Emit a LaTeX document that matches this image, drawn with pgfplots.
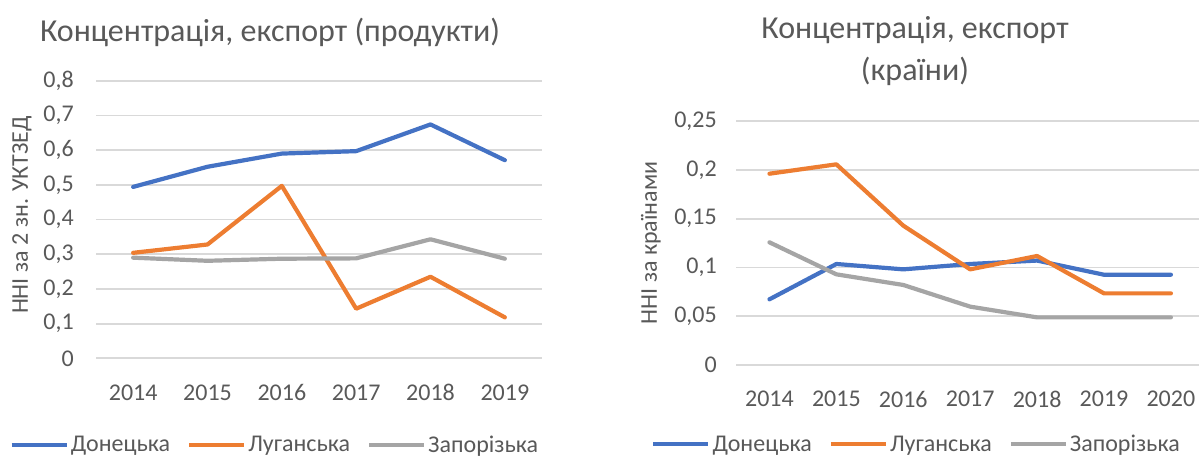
\documentclass[border=0pt]{standalone}
\usepackage{fontspec}
\setmainfont{Carlito}
\usepackage{pgfplots}
\pgfplotsset{compat=1.18}
\definecolor{cblue}{HTML}{4472C4}
\definecolor{corange}{HTML}{ED7D31}
\definecolor{cgray}{HTML}{A5A5A5}
\definecolor{gridc}{HTML}{D9D9D9}
\definecolor{txt}{HTML}{595959}
\newcommand{\tfont}{\fontsize{24}{28}\selectfont}
\pgfplotsset{
  excel/.style={
    scale only axis,
    axis line style={draw=none},
    major tick length=0pt,
    ymajorgrids,
    grid style={gridc, line width=1.8pt},
    tick label style={font=\tfont, text=txt, inner sep=0pt},
    xticklabel style={anchor=center, yshift=-34pt},
    label style={font=\tfont, text=txt},
    every axis plot/.append style={line width=4.2pt, line join=round, line cap=round},
    legend columns=3,
    legend image code/.code={\draw[##1, line width=4.2pt, line cap=butt] (0pt,0pt) -- (55pt,0pt);},
    legend style={draw=none, fill=none, font=\tfont, text=txt, anchor=center,
      /tikz/every even column/.append style={column sep=15pt},
      nodes={inner sep=2pt}},
    legend cell align=left,
    clip=false,
  }
}
\begin{document}
\begin{tikzpicture}[x=1pt,y=1pt]
\useasboundingbox (0,0) rectangle (1199,459);
% Left chart
\node[font=\fontsize{32}{38}\selectfont, text=txt] at (270,427) {Концентрація, експорт (продукти)};
\begin{axis}[excel,
  at={(96pt,100.7pt)}, anchor=south west,
  width=446pt, height=277.6pt,
  xmin=-0.5, xmax=5.5, ymin=0, ymax=0.8,
  xtick={0,1,2,3,4,5}, xticklabels={2014,2015,2016,2017,2018,2019},
  ytick={0,0.1,0.2,0.3,0.4,0.5,0.6,0.7,0.8},
  yticklabels={0,{0,1},{0,2},{0,3},{0,4},{0,5},{0,6},{0,7},{0,8}},
  yticklabel style={anchor=east, xshift=-22pt},
  ylabel={ННІ за 2 зн. УКТЗЕД},
  ylabel style={at={(axis description cs:-0.166,0.516)}, anchor=center, rotate=0},
  legend style={at={(axis description cs:0.401,-0.312)}},
]
\addplot[cblue] coordinates {(0,0.494) (1,0.552) (2,0.590) (3,0.597) (4,0.674) (5,0.571)};
\addplot[corange] coordinates {(0,0.304) (1,0.328) (2,0.497) (3,0.143) (4,0.235) (5,0.118)};
\addplot[cgray] coordinates {(0,0.290) (1,0.281) (2,0.287) (3,0.288) (4,0.343) (5,0.287)};
\legend{Донецька,Луганська,Запорізька}
\end{axis}
% Right chart
\node[font=\fontsize{32}{42}\selectfont, text=txt, align=center] at (915,408) {Концентрація, експорт\\(країни)};
\begin{axis}[excel,
  at={(736pt,94pt)}, anchor=south west,
  width=463pt, height=244pt,
  xmin=-0.5, xmax=6.42, ymin=0, ymax=0.25,
  xtick={0,1,2,3,4,5,6}, xticklabels={2014,2015,2016,2017,2018,2019,2020},
  ytick={0,0.05,0.1,0.15,0.2,0.25},
  yticklabels={0,{0,05},{0,1},{0,15},{0,2},{0,25}},
  yticklabel style={anchor=east, xshift=-19pt},
  ylabel={ННІ за країнами},
  ylabel style={at={(axis description cs:-0.184,0.5)}, anchor=center, rotate=0},
  legend style={at={(axis description cs:0.390,-0.325)}},
]
\addplot[cblue] coordinates {(0,0.0673) (1,0.1035) (2,0.098) (3,0.1035) (4,0.107) (5,0.0925) (6,0.0925)};
\addplot[corange] coordinates {(0,0.196) (1,0.2056) (2,0.1428) (3,0.098) (4,0.1117) (5,0.0734) (6,0.0734)};
\addplot[cgray] coordinates {(0,0.1257) (1,0.0929) (2,0.082) (3,0.0598) (4,0.0488) (5,0.0488) (6,0.0488)};
\legend{Донецька,Луганська,Запорізька}
\end{axis}
\end{tikzpicture}
\end{document}
